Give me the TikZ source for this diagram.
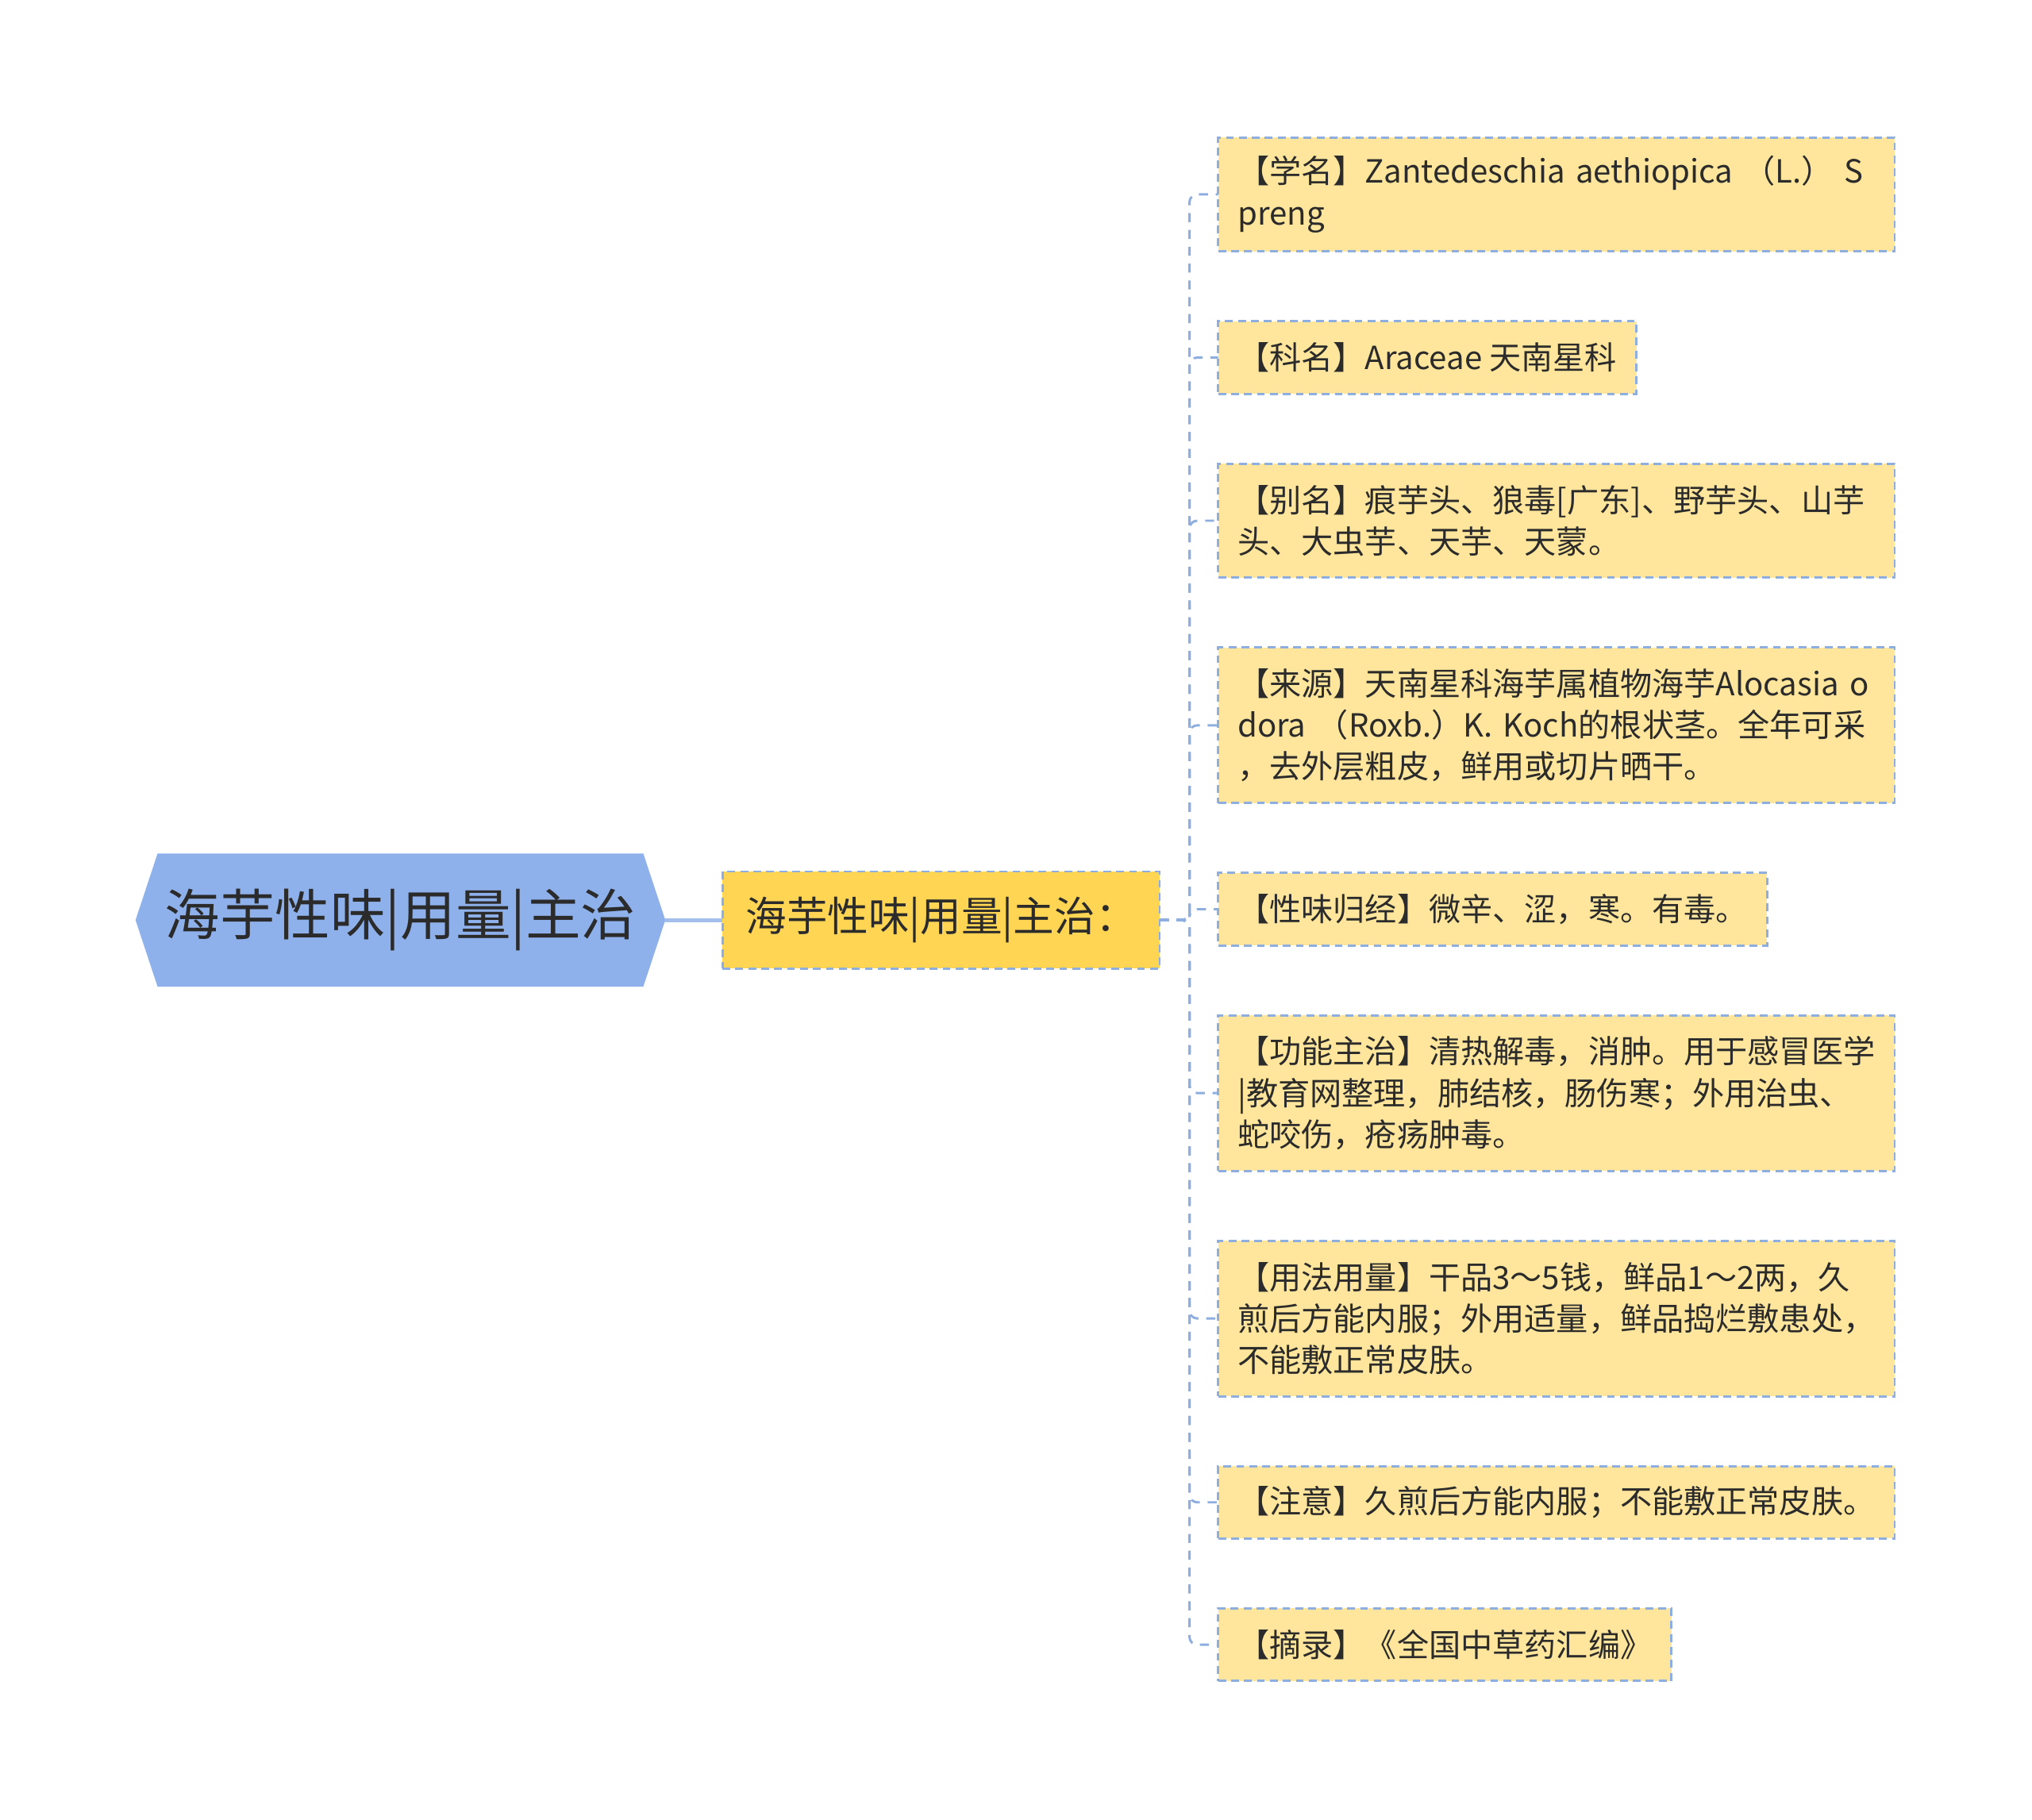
\documentclass[tikz,border=0pt]{standalone}
\usepackage{fontspec}
\newfontfamily\cjk{Noto Sans CJK SC}
\usetikzlibrary{positioning, backgrounds}

\definecolor{rootfill}{HTML}{8FB1EB}
\definecolor{subfill}{HTML}{FFD553}
\definecolor{leaffill}{HTML}{FFE69C}
\definecolor{edge}{HTML}{8FAEE0}
\definecolor{link}{HTML}{A5BFEC}
\definecolor{txt}{HTML}{2B2B2B}

\begin{document}
\begin{tikzpicture}[x=0.5pt, y=-0.5pt, text=txt,
  root/.style={minimum width=204pt, minimum height=51pt, inner sep=0pt,
    font=\cjk\fontsize{21.3}{26}\selectfont},
  sub/.style={draw=edge, dash pattern=on 3pt off 2pt, line width=0.9pt, fill=subfill,
    minimum height=37.5pt, inner xsep=9pt, inner ysep=0pt, outer sep=0pt,
    font=\cjk\fontsize{15.8}{20}\selectfont},
  leaf/.style={draw=edge, dash pattern=on 3pt off 2pt, line width=0.9pt, fill=leaffill,
    inner xsep=7.5pt, inner ysep=0pt, outer sep=0pt, align=left, minimum height=28pt,
    font=\cjk\fontsize{12.3}{16}\selectfont},
  wide/.style={text width=246pt},
  two/.style={minimum height=44pt},
  three/.style={minimum height=60pt},
  branch/.style={draw=edge, dash pattern=on 3.5pt off 3pt, line width=0.9pt, rounded corners=3pt}]

  \useasboundingbox (0,0) rectangle (1568,1404);

  \node[root] (root) at (309,710) {海芋性味|用量|主治};
  \begin{scope}[on background layer]
    \fill[rootfill] (root.west) -- ([xshift=8.5pt]root.north west) -- ([xshift=-8.5pt]root.north east)
      -- (root.east) -- ([xshift=-8.5pt]root.south east) -- ([xshift=8.5pt]root.south west) -- cycle;
  \end{scope}
  \node[sub, right=22pt of root] (sub) {海芋性味|用量|主治：};

  \node[leaf, wide, two, anchor=north west] (l1) at (940,106)
    {【学名】Zantedeschia aethiopica （L.） S\\preng};
  \node[leaf, below=26.95pt of l1.south west, anchor=north west] (l2)
    {【科名】Araceae 天南星科};
  \node[leaf, wide, two, below=26.95pt of l2.south west, anchor=north west] (l3)
    {【别名】痕芋头、狼毒[广东]、野芋头、山芋\\头、大虫芋、天芋、天蒙。};
  \node[leaf, wide, three, below=26.95pt of l3.south west, anchor=north west] (l4)
    {【来源】天南星科海芋属植物海芋Alocasia o\\dora （Roxb.）K. Koch的根状茎。全年可采\\，去外层粗皮，鲜用或切片晒干。};
  \node[leaf, below=26.95pt of l4.south west, anchor=north west] (l5)
    {【性味归经】微辛、涩，寒。有毒。};
  \node[leaf, wide, three, below=26.95pt of l5.south west, anchor=north west] (l6)
    {【功能主治】清热解毒，消肿。用于感冒医学\\|教育网整理，肺结核，肠伤寒；外用治虫、\\蛇咬伤，疮疡肿毒。};
  \node[leaf, wide, three, below=26.95pt of l6.south west, anchor=north west] (l7)
    {【用法用量】干品3～5钱，鲜品1～2两，久\\煎后方能内服；外用适量，鲜品捣烂敷患处，\\不能敷正常皮肤。};
  \node[leaf, below=26.95pt of l7.south west, anchor=north west] (l8)
    {【注意】久煎后方能内服；不能敷正常皮肤。};
  \node[leaf, below=26.95pt of l8.south west, anchor=north west] (l9)
    {【摘录】《全国中草药汇编》};

  \draw[link, line width=1.6pt] (root.east) -- (sub.west);
  \foreach \i in {1,...,9}
    \draw[branch] (sub.east) -- ++(11.5pt,0) |- (l\i.west);
\end{tikzpicture}
\end{document}
